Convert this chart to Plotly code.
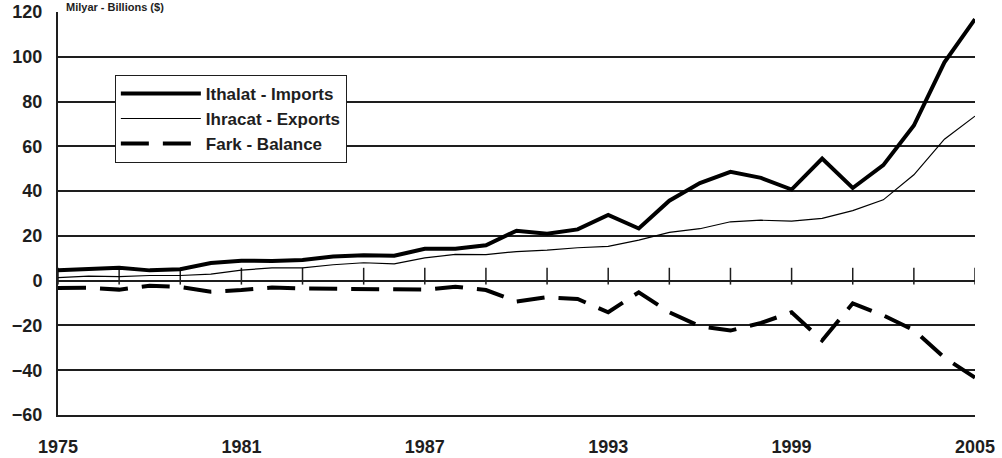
import plotly.graph_objects as go

years = list(range(1975, 2006))
imports = [4.7, 5.1, 5.8, 4.6, 5.1, 7.9, 8.9, 8.8, 9.2, 10.8, 11.3, 11.1, 14.2, 14.3, 15.8,
           22.3, 21.0, 22.9, 29.4, 23.3, 35.7, 43.6, 48.6, 45.9, 40.7, 54.5, 41.4, 51.6,
           69.3, 97.5, 116.8]
exports = [1.4, 2.0, 1.8, 2.3, 2.3, 2.9, 4.7, 5.7, 5.7, 7.1, 8.0, 7.5, 10.2, 11.7, 11.6,
           13.0, 13.6, 14.7, 15.3, 18.1, 21.6, 23.2, 26.3, 27.0, 26.6, 27.8, 31.3, 36.1,
           47.3, 63.2, 73.5]
balance = [-3.3, -3.2, -4.0, -2.3, -2.8, -4.9, -4.2, -3.1, -3.5, -3.6, -3.4, -3.6, -4.0,
           -2.7, -4.2, -9.3, -7.4, -8.2, -14.1, -5.2, -14.1, -20.4, -22.3, -18.9, -14.1,
           -26.7, -10.1, -15.5, -22.1, -34.4, -43.3]
year_labels = [1975, 1981, 1987, 1993, 1999, 2005]
zero_ticks = list(range(1975, 2006, 2))
y_ticks = list(range(-60, 121, 20))

FONT = "Liberation Sans, Arial, sans-serif"
INK = "#1e1e1e"

fig = go.Figure()
# tick marks crossing the zero (category) axis
fig.add_trace(go.Scatter(x=zero_ticks, y=[2] * len(zero_ticks), mode="markers", showlegend=False,
                         hoverinfo="skip",
                         marker=dict(symbol="line-ns", size=12, line=dict(color=INK, width=1.5))))
fig.add_trace(go.Scatter(x=years, y=imports, mode="lines", name="Ithalat - Imports",
                         legendgroup="a", line=dict(color="black", width=4)))
fig.add_trace(go.Scatter(x=years, y=exports, mode="lines", name="Ihracat - Exports",
                         legendgroup="b", line=dict(color="black", width=1.2)))
fig.add_trace(go.Scatter(x=years, y=balance, mode="lines", name="Fark - Balance",
                         legendgroup="c", line=dict(color="black", width=4, dash="28px,14px")))

fig.update_layout(
    width=1002, height=458,
    margin=dict(l=58, r=27, t=12, b=43, autoexpand=False),
    paper_bgcolor="white", plot_bgcolor="white",
    showlegend=True,
    legend=dict(x=0.062, y=0.844, xanchor="left", yanchor="top",
                bordercolor=INK, borderwidth=1, bgcolor="white",
                font=dict(family=FONT, size=17, color=INK, weight="bold"),
                tracegroupgap=0, itemwidth=80),
    xaxis=dict(range=[1975, 2005], tickvals=year_labels, ticktext=[str(v) for v in year_labels],
               showgrid=False, showline=True, linecolor=INK, linewidth=2, automargin=False,
               ticks="", tickfont=dict(family=FONT, size=18, color=INK, weight="bold"),
               ticklabelstandoff=14, zeroline=False),
    yaxis=dict(range=[-60, 120], tickvals=y_ticks, showgrid=True, gridcolor=INK, gridwidth=1.5,
               showline=True, linecolor=INK, linewidth=2, ticks="", zeroline=True,
               zerolinecolor=INK, zerolinewidth=2, automargin=False,
               tickfont=dict(family=FONT, size=18, color=INK, weight="bold"),
               ticklabelstandoff=10),
)

fig.add_annotation(text="Milyar - Billions ($)", xref="paper", yref="paper", x=0.008, y=1 + 12 / 403,
                   xanchor="left", yanchor="top", showarrow=False, borderpad=0,
                   font=dict(family=FONT, size=11, color=INK, weight="bold"))

fig.write_html("out.html", config={"displayModeBar": False},
               post_script="document.body.style.margin='0';")
